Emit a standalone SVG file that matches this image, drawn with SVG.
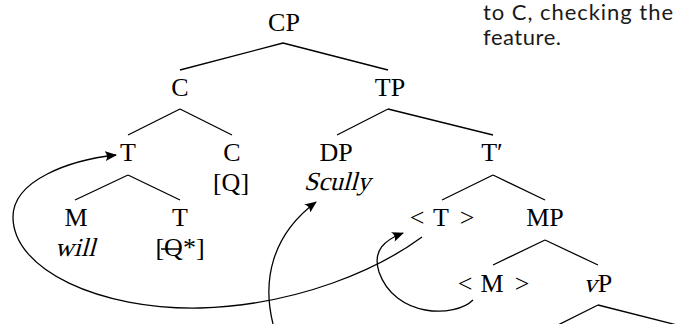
<svg xmlns="http://www.w3.org/2000/svg" width="700" height="324" viewBox="0 0 700 324">
<style>
  .n { font-family: "Liberation Serif", "DejaVu Serif", serif; font-size: 26px; fill: #000; text-anchor: middle; }
  .e { stroke: #000; stroke-width: 1.3; fill: none; }
  .a { stroke: #000; stroke-width: 1.3; fill: none; marker-end: url(#arr); }
  .note { font-family: "Lato", "Open Sans", sans-serif; font-size: 22px; fill: #1a1a1a; }
</style>
<defs>
  <marker id="arr" viewBox="0 0 12 10" refX="11" refY="5" markerWidth="12" markerHeight="10" markerUnits="userSpaceOnUse" orient="auto">
    <path d="M0,0 L12,5 L0,10 Q4,5 0,0 Z" fill="#000"/>
  </marker>
</defs>
<rect width="700" height="324" fill="#fff"/>

<g id="note">
  <text class="note" x="483" y="20" textLength="190" lengthAdjust="spacing">to C, checking the</text>
  <text class="note" x="483" y="45" textLength="78" lengthAdjust="spacing">feature.</text>
</g>

<g id="edges">
  <path class="e" d="M283,43 L180,70 M283,43 L388,70"/>
  <path class="e" d="M180,109 L128,135 M180,109 L232,135"/>
  <path class="e" d="M388,109 L337,135 M388,109 L493,135"/>
  <path class="e" d="M128,175 L75,200 M128,175 L180,200"/>
  <path class="e" d="M493,175 L442,200 M493,175 L545,200"/>
  <path class="e" d="M545,240 L493,265 M545,240 L598,265"/>
  <path class="e" d="M598,305 L558,325 M598,305 L677,325"/>
</g>

<g id="node-CP"><text class="n" x="284" y="31">CP</text></g>
<g id="node-C1"><text class="n" x="180" y="96">C</text></g>
<g id="node-TP"><text class="n" x="390" y="96">TP</text></g>
<g id="node-T1"><text class="n" x="128" y="161">T</text></g>
<g id="node-C2"><text class="n" x="232" y="161">C</text><text class="n" x="231" y="191">[Q]</text></g>
<g id="node-DP"><text class="n" x="336" y="161">DP</text><g transform="translate(337,190) skewX(-15)"><text class="n" x="0" y="0">Scully</text></g></g>
<g id="node-Tbar"><text class="n" x="492" y="161">T′</text></g>
<g id="node-M"><text class="n" x="76" y="226">M</text><g transform="translate(75,256) skewX(-15)"><text class="n" x="0" y="0">will</text></g></g>
<g id="node-T2"><text class="n" x="180" y="226">T</text><text class="n" x="180" y="256">[Q*]</text><line x1="161" y1="249" x2="181" y2="249" stroke="#000" stroke-width="1.5"/></g>
<g id="node-Ttrace">
  <text class="n" x="417" y="226">&lt;</text><text class="n" x="441" y="226">T</text><text class="n" x="467" y="226">&gt;</text>
</g>
<g id="node-MP"><text class="n" x="545" y="226">MP</text></g>
<g id="node-Mtrace">
  <text class="n" x="465" y="292">&lt;</text><text class="n" x="492" y="292">M</text><text class="n" x="522" y="292">&gt;</text>
</g>
<g id="node-vP"><g transform="translate(590,292) skewX(-15)"><text class="n" x="0" y="0">v</text></g><text class="n" x="605" y="292">P</text></g>

<g id="connectors">
  <path class="a" d="M422,237 C380,268 300,305 200,308 C100,310 13,270 13,217 C13,180 70,160 116,155"/>
  <path class="a" d="M273,324 C262,280 272,235 316,202"/>
  <path class="a" d="M473,300 C455,318 395,318 379,272 C372,250 385,240 403,233"/>
</g>
</svg>
